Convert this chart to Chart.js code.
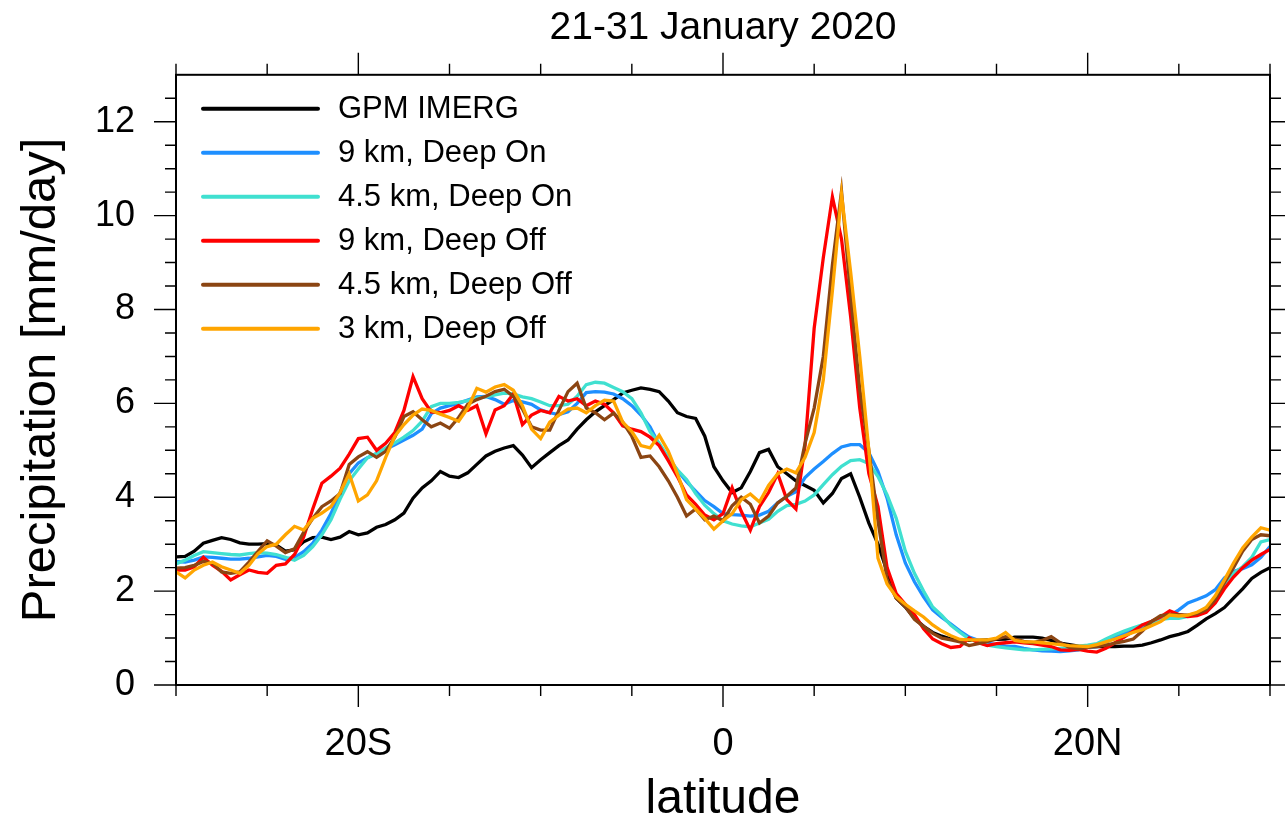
<!DOCTYPE html>
<html>
<head>
<meta charset="utf-8">
<title>21-31 January 2020</title>
<script src="https://cdn.jsdelivr.net/npm/chart.js@4.4.1/dist/chart.umd.min.js"></script>
<style>
  html, body { margin: 0; padding: 0; background: #ffffff; }
  #wrap { width: 1285px; height: 826px; }
</style>
</head>
<body>
<div id="wrap"><canvas id="precipChart" width="1285" height="826"></canvas></div>
<script>
// Zonal-mean precipitation, 21-31 January 2020
// one value per 0.5 degree of latitude, from 30S to 30N

const LATITUDES = Array.from({ length: 121 }, (_, i) => -30 + i * 0.5);

const IMERG = [
  2.73, 2.74, 2.85, 3.02, 3.08, 3.14, 3.10, 3.03, 3.00, 3.00,
  3.01, 2.98, 2.85, 2.88, 3.05, 3.14, 3.15, 3.10, 3.15, 3.27,
  3.20, 3.24, 3.36, 3.42, 3.52, 3.66, 3.98, 4.20, 4.35, 4.55,
  4.45, 4.42, 4.52, 4.70, 4.88, 4.98, 5.05, 5.10, 4.90, 4.63,
  4.80, 4.95, 5.10, 5.22, 5.45, 5.65, 5.82, 5.95, 6.08, 6.22,
  6.28, 6.33, 6.30, 6.25, 6.05, 5.80, 5.72, 5.68, 5.30, 4.65,
  4.35, 4.10, 4.20, 4.55, 4.95, 5.02, 4.65, 4.50, 4.35, 4.25,
  4.15, 3.88, 4.08, 4.40, 4.50, 4.00, 3.45, 3.00, 2.42, 1.85,
  1.66, 1.42, 1.25, 1.12, 1.04, 0.98, 0.96, 0.95, 0.95, 0.96,
  0.97, 0.98, 1.02, 1.02, 1.02, 1.00, 0.95, 0.89, 0.86, 0.83,
  0.82, 0.82, 0.82, 0.82, 0.83, 0.83, 0.85, 0.90, 0.96, 1.03,
  1.08, 1.14, 1.27, 1.41, 1.52, 1.65, 1.85, 2.05, 2.27, 2.40,
  2.50
];

const KM9_DEEP_ON = [
  2.63, 2.62, 2.66, 2.73, 2.72, 2.70, 2.68, 2.68, 2.70, 2.73,
  2.76, 2.74, 2.68, 2.72, 2.84, 3.02, 3.30, 3.65, 4.10, 4.50,
  4.73, 4.84, 4.93, 5.02, 5.12, 5.22, 5.32, 5.45, 5.78, 5.90,
  5.95, 6.00, 6.07, 6.14, 6.15, 6.08, 5.98, 6.06, 6.03, 5.98,
  5.86, 5.80, 5.76, 5.82, 6.00, 6.23, 6.25, 6.24, 6.20, 6.10,
  5.95, 5.75, 5.50, 5.12, 4.85, 4.57, 4.33, 4.13, 3.93, 3.80,
  3.65, 3.63, 3.62, 3.60, 3.62, 3.70, 3.88, 4.02, 4.12, 4.42,
  4.60, 4.76, 4.93, 5.07, 5.12, 5.12, 4.95, 4.55, 3.98, 3.20,
  2.60, 2.20, 1.88, 1.60, 1.44, 1.30, 1.15, 1.02, 0.95, 0.89,
  0.86, 0.83, 0.82, 0.78, 0.75, 0.73, 0.72, 0.71, 0.73, 0.75,
  0.80, 0.82, 0.90, 1.03, 1.10, 1.16, 1.24, 1.31, 1.38, 1.48,
  1.60, 1.75, 1.82, 1.90, 2.03, 2.28, 2.42, 2.48, 2.56, 2.72,
  2.95
];

const KM45_DEEP_ON = [
  2.58, 2.66, 2.76, 2.84, 2.82, 2.80, 2.78, 2.77, 2.80, 2.82,
  2.81, 2.78, 2.72, 2.66, 2.76, 2.95, 3.20, 3.52, 3.96, 4.35,
  4.60, 4.84, 4.93, 5.05, 5.16, 5.28, 5.42, 5.62, 5.93, 6.00,
  6.00, 6.02, 6.06, 6.11, 6.14, 6.18, 6.22, 6.20, 6.14, 6.10,
  6.03, 5.95, 5.95, 5.98, 6.15, 6.40, 6.45, 6.43, 6.34, 6.25,
  6.10, 5.80, 5.40, 5.15, 4.85, 4.58, 4.38, 4.08, 3.83, 3.65,
  3.50, 3.43, 3.39, 3.37, 3.45, 3.53, 3.70, 3.82, 3.85, 3.92,
  4.05, 4.27, 4.48, 4.66, 4.78, 4.80, 4.72, 4.44, 4.05, 3.55,
  2.85, 2.38, 2.00, 1.66, 1.48, 1.27, 1.12, 0.98, 0.91, 0.85,
  0.82, 0.79, 0.77, 0.75, 0.75, 0.76, 0.77, 0.78, 0.80, 0.83,
  0.85, 0.88, 0.98, 1.07, 1.15, 1.22, 1.28, 1.33, 1.40, 1.42,
  1.42, 1.46, 1.52, 1.65, 1.82, 2.12, 2.38, 2.52, 2.72, 3.05,
  3.10
];

const KM9_DEEP_OFF = [
  2.45, 2.45, 2.52, 2.72, 2.55, 2.42, 2.24, 2.35, 2.45, 2.40,
  2.38, 2.55, 2.58, 2.78, 3.15, 3.75, 4.30, 4.45, 4.62, 4.92,
  5.25, 5.28, 5.00, 5.15, 5.38, 5.85, 6.57, 6.10, 5.82, 5.80,
  5.85, 5.95, 5.85, 5.95, 5.35, 5.86, 5.95, 6.20, 5.55, 5.75,
  5.85, 5.80, 6.15, 6.05, 6.10, 5.95, 6.05, 5.98, 5.80, 5.52,
  5.45, 5.40, 5.28, 5.10, 4.78, 4.44, 4.05, 3.85, 3.62, 3.52,
  3.65, 4.20, 3.70, 3.30, 3.80, 4.10, 4.50, 3.95, 3.75, 5.10,
  7.60, 9.10, 10.40, 9.50, 7.85, 5.90, 4.50, 3.80, 2.50, 1.95,
  1.72, 1.50, 1.20, 0.98, 0.88, 0.80, 0.82, 1.00, 0.90, 0.84,
  0.88, 0.90, 0.92, 0.90, 0.88, 0.85, 0.82, 0.75, 0.74, 0.76,
  0.72, 0.70, 0.78, 0.90, 1.02, 1.15, 1.28, 1.36, 1.45, 1.58,
  1.50, 1.46, 1.48, 1.55, 1.75, 2.05, 2.30, 2.50, 2.66, 2.78,
  2.89
];

const KM45_DEEP_OFF = [
  2.49, 2.50, 2.55, 2.63, 2.60, 2.41, 2.38, 2.41, 2.62, 2.85,
  3.07, 2.96, 2.82, 2.90, 3.25, 3.55, 3.80, 3.92, 4.08, 4.70,
  4.86, 4.97, 4.85, 4.98, 5.28, 5.72, 5.82, 5.65, 5.50, 5.58,
  5.47, 5.70, 5.98, 6.08, 6.15, 6.25, 6.30, 6.15, 5.88, 5.50,
  5.43, 5.43, 5.85, 6.25, 6.43, 5.90, 5.80, 5.65, 5.79, 5.60,
  5.30, 4.85, 4.88, 4.65, 4.35, 4.00, 3.60, 3.75, 3.52, 3.60,
  3.50, 3.82, 4.00, 3.85, 3.45, 3.60, 3.88, 4.02, 4.20, 5.15,
  5.90, 7.00, 8.95, 10.52, 8.30, 6.30, 5.00, 3.50, 2.25, 1.85,
  1.67, 1.40, 1.25, 1.10, 1.00, 0.96, 0.92, 0.84, 0.88, 0.93,
  0.98, 1.03, 0.98, 0.93, 0.90, 0.95, 1.03, 0.90, 0.80, 0.77,
  0.80, 0.82, 0.85, 0.89, 0.93, 0.98, 1.15, 1.35, 1.48, 1.50,
  1.50, 1.49, 1.52, 1.60, 1.82, 2.18, 2.50, 2.85, 3.10, 3.20,
  3.18
];

const KM3_DEEP_OFF = [
  2.41, 2.28, 2.45, 2.55, 2.62, 2.52, 2.45, 2.38, 2.55, 2.80,
  2.95, 3.00, 3.20, 3.38, 3.30, 3.55, 3.66, 3.80, 4.10, 4.50,
  3.92, 4.05, 4.35, 4.85, 5.30, 5.55, 5.75, 5.88, 5.85, 5.77,
  5.70, 5.62, 5.90, 6.32, 6.24, 6.35, 6.40, 6.28, 5.95, 5.45,
  5.25, 5.60, 5.75, 5.88, 5.90, 5.80, 5.95, 6.07, 6.05, 5.60,
  5.40, 5.10, 5.05, 5.32, 4.98, 4.50, 3.95, 3.75, 3.55, 3.32,
  3.50, 3.65, 3.95, 4.07, 3.90, 4.25, 4.50, 4.60, 4.52, 4.85,
  5.38, 6.50, 8.40, 10.45, 8.80, 7.00, 5.00, 2.70, 2.15, 1.88,
  1.72, 1.58, 1.45, 1.28, 1.15, 1.05, 0.97, 0.96, 0.96, 0.96,
  1.00, 1.12, 0.95, 0.92, 0.92, 0.90, 0.88, 0.86, 0.84, 0.83,
  0.82, 0.86, 0.92, 0.98, 1.05, 1.12, 1.18, 1.26, 1.35, 1.49,
  1.47, 1.49, 1.55, 1.65, 1.90, 2.24, 2.60, 2.92, 3.15, 3.35,
  3.30
];

const SERIES_LABELS = [
  "GPM IMERG",
  "9 km, Deep On",
  "4.5 km, Deep On",
  "9 km, Deep Off",
  "4.5 km, Deep Off",
  "3 km, Deep Off"
];
const SERIES_COLORS = ["#000000", "#1e8fff", "#40e0d0", "#ff0000", "#8b4513", "#ffa500"];
const SERIES_VALUES = [IMERG, KM9_DEEP_ON, KM45_DEEP_ON, KM9_DEEP_OFF, KM45_DEEP_OFF, KM3_DEEP_OFF];

// axis ticks
const X_MAJOR_TICKS = [-20, 0, 20];
const X_MINOR_TICKS = [-30, -25, -15, -10, -5, 5, 10, 15, 25, 30];
const Y_MAJOR_TICKS = [0, 2, 4, 6, 8, 10, 12];
const Y_MINOR_TICKS = [0.5, 1, 1.5, 2.5, 3, 3.5, 4.5, 5, 5.5, 6.5, 7, 7.5, 8.5, 9, 9.5, 10.5, 11, 11.5, 12.5];

const FONT = "'Liberation Sans', Arial, Helvetica, sans-serif";

/**
 * Format a latitude tick: -20 -> "20S", 20 -> "20N".
 */
function formatLatitude(value) {
  if (value < 0) return `${-value}S`;
  if (value > 0) return `${value}N`;
  return "0";
}

// Frame, outward tick marks on all four sides and the in-plot legend
const frameAndLegend = {
  id: "frameAndLegend",
  afterDraw(chart) {
    const { ctx, chartArea: area, scales } = chart;
    const xScale = scales.x;
    const yScale = scales.y;
    const MAJOR = 22;
    const MINOR = 11;

    ctx.save();
    ctx.strokeStyle = "#000";
    ctx.lineWidth = 1.4;
    ctx.beginPath();

    const xTick = (value, len) => {
      const px = xScale.getPixelForValue(value);
      ctx.moveTo(px, area.bottom);
      ctx.lineTo(px, area.bottom + len);
      ctx.moveTo(px, area.top);
      ctx.lineTo(px, area.top - len);
    };
    const yTick = (value, len) => {
      const py = yScale.getPixelForValue(value);
      ctx.moveTo(area.left, py);
      ctx.lineTo(area.left - len, py);
      ctx.moveTo(area.right, py);
      ctx.lineTo(area.right + len, py);
    };

    X_MAJOR_TICKS.forEach(v => xTick(v, MAJOR));
    X_MINOR_TICKS.forEach(v => xTick(v, MINOR));
    Y_MAJOR_TICKS.forEach(v => yTick(v, MAJOR));
    Y_MINOR_TICKS.forEach(v => yTick(v, MINOR));
    ctx.stroke();

    ctx.lineWidth = 2;
    ctx.strokeRect(area.left, area.top, area.width, area.height);

    // legend, top-left inside the plot
    const lineStart = area.left + 27;
    const lineEnd = area.left + 142;
    const textX = area.left + 162;
    const firstRow = area.top + 34;
    const rowGap = 44;

    ctx.font = `31px ${FONT}`;
    ctx.textBaseline = "middle";
    ctx.textAlign = "left";
    ctx.lineCap = "round";
    chart.data.datasets.forEach((ds, i) => {
      const rowY = firstRow + i * rowGap;
      ctx.strokeStyle = ds.borderColor;
      ctx.lineWidth = 4;
      ctx.beginPath();
      ctx.moveTo(lineStart, rowY);
      ctx.lineTo(lineEnd, rowY);
      ctx.stroke();
      ctx.fillStyle = "#000";
      ctx.fillText(ds.label, textX, rowY + 1);
    });

    ctx.restore();
  }
};

const datasets = SERIES_VALUES.map((values, i) => ({
  label: SERIES_LABELS[i],
  data: LATITUDES.map((lat, j) => ({ x: lat, y: values[j] })),
  borderColor: SERIES_COLORS[i],
  backgroundColor: SERIES_COLORS[i],
  borderWidth: 3.3,
  pointRadius: 0,
  tension: 0,
  // last series drawn on top
  order: SERIES_VALUES.length - i
}));

new Chart(document.getElementById("precipChart"), {
  type: "line",
  data: { datasets },
  options: {
    responsive: false,
    animation: false,
    devicePixelRatio: 1,
    layout: { padding: { top: 0, right: 15, bottom: 0, left: 0 } },
    plugins: {
      legend: { display: false },
      tooltip: { enabled: false },
      title: {
        display: true,
        fullSize: false,
        text: "21-31 January 2020",
        color: "#000",
        font: { family: FONT, size: 39, weight: "normal" },
        padding: { top: 5, bottom: 23 }
      }
    },
    scales: {
      x: {
        type: "linear",
        min: -30,
        max: 30,
        afterBuildTicks: scale => {
          scale.ticks = X_MAJOR_TICKS.map(v => ({ value: v }));
        },
        afterFit: scale => {
          scale.height = 141;
        },
        grid: { display: false, drawTicks: false },
        border: { display: false },
        ticks: {
          color: "#000",
          font: { family: FONT, size: 38 },
          padding: 37,
          maxRotation: 0,
          callback: value => formatLatitude(value)
        },
        title: {
          display: true,
          text: "latitude",
          color: "#000",
          font: { family: FONT, size: 48 },
          padding: { top: 0, bottom: -3 }
        }
      },
      y: {
        min: 0,
        max: 13,
        afterBuildTicks: scale => {
          scale.ticks = Y_MAJOR_TICKS.map(v => ({ value: v }));
        },
        afterFit: scale => {
          scale.width = 176;
        },
        grid: { display: false, drawTicks: false },
        border: { display: false },
        ticks: {
          color: "#000",
          font: { family: FONT, size: 36 },
          padding: 41
        },
        title: {
          display: true,
          text: "Precipitation [mm/day]",
          color: "#000",
          font: { family: FONT, size: 49 },
          padding: { top: 12, bottom: 0 }
        }
      }
    }
  },
  plugins: [frameAndLegend]
});
</script>
</body>
</html>
